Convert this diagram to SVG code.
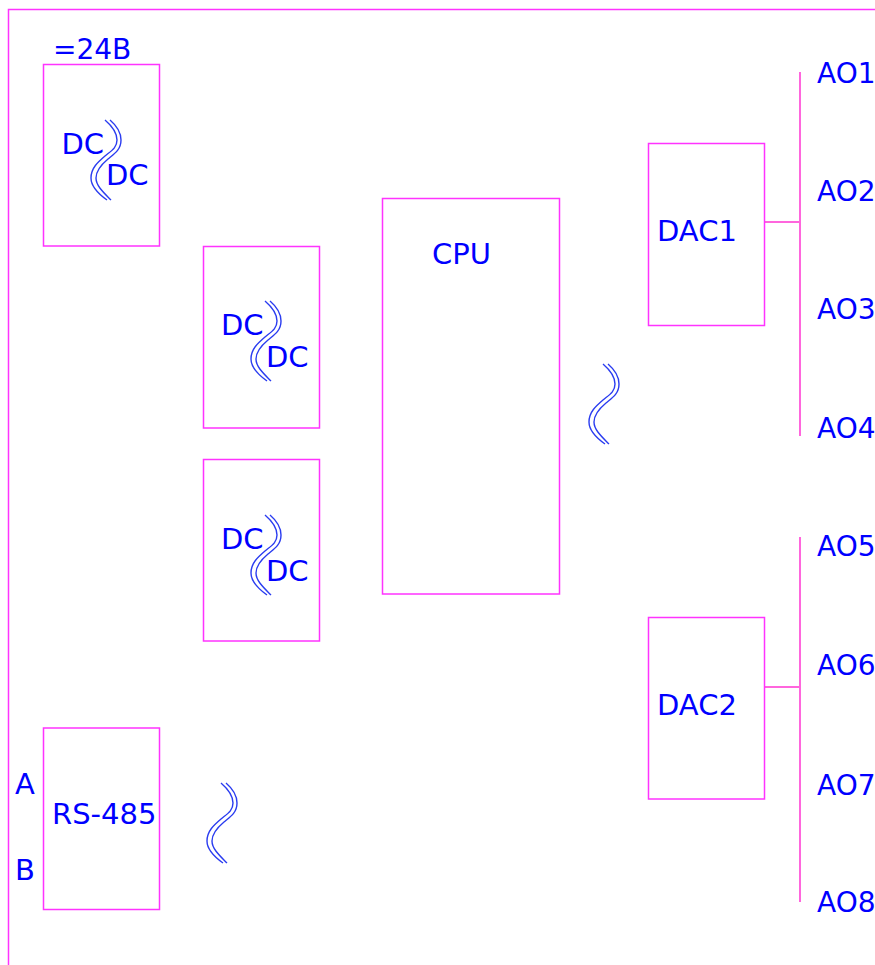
<svg xmlns="http://www.w3.org/2000/svg" width="875" height="965" viewBox="0 0 875 965">
<defs>
<g id="w"><path d="M5 0C12 6 16 12 16 20C16 30 9 34 3 39C-3 44 -9 50 -9 58C-9 66 -1 73 6 80" class="s"/><path d="M0 0C7 6 12 12 12 20C12 28 6 31 0 36C-7 42 -14 48 -14 58C-14 67 -5 75 2 80" class="s"/></g>
</defs>
<style>
.b{fill:none;stroke:#ff33ff;stroke-width:1.5}
.l{fill:none;stroke:#ff66dd;stroke-width:2}
.s{fill:none;stroke:#2a3cf0;stroke-width:1.4}
text{font-family:"DejaVu Sans",Verdana,sans-serif;font-size:29px;fill:#0000ff}
.a{font-size:28px}
</style>
<rect width="875" height="965" fill="#fff"/>
<g id="connectors">
<path class="b" d="M875 9.500H8.500V965"/>
<path class="l" d="M800 72V436M765 222H800M800 537V902M765 687H800"/>
</g>
<g id="n1"><rect class="b" x="43.500" y="64.500" width="116" height="181.500"/><text class="a" x="53" y="59">=24B</text><text x="61.500" y="153.500">DC</text><text x="106" y="185">DC</text><use href="#w" x="105" y="120"/></g>
<g id="n2"><rect class="b" x="203.500" y="246.500" width="116" height="181.500"/><text x="221" y="335">DC</text><text x="266" y="367">DC</text><use href="#w" x="265" y="301"/></g>
<g id="n3"><rect class="b" x="203.500" y="459.500" width="116" height="181.500"/><text x="221" y="549">DC</text><text x="266" y="581">DC</text><use href="#w" x="265" y="515"/></g>
<g id="cpu"><rect class="b" x="382.500" y="198.500" width="177" height="395.500"/><text x="432" y="264">CPU</text></g>
<g id="n5"><rect class="b" x="648.500" y="143.500" width="116" height="182"/><text x="657" y="241">DAC1</text></g>
<g id="n6"><rect class="b" x="648.500" y="617.500" width="116" height="181.500"/><text x="657" y="715">DAC2</text></g>
<g id="n7"><rect class="b" x="43.500" y="728" width="116" height="181.500"/><text x="52" y="824">RS-485</text><text x="15" y="794">A</text><text x="15" y="880">B</text></g>
<g id="waves"><use href="#w" x="603" y="364"/><use href="#w" x="221" y="783"/></g>
<g id="labels"><text class="a" x="817" y="83">AO1</text><text class="a" x="817" y="201">AO2</text><text class="a" x="817" y="319">AO3</text><text class="a" x="817" y="438">AO4</text><text class="a" x="817" y="556">AO5</text><text class="a" x="817" y="675">AO6</text><text class="a" x="817" y="795">AO7</text><text class="a" x="817" y="912">AO8</text></g>
</svg>
